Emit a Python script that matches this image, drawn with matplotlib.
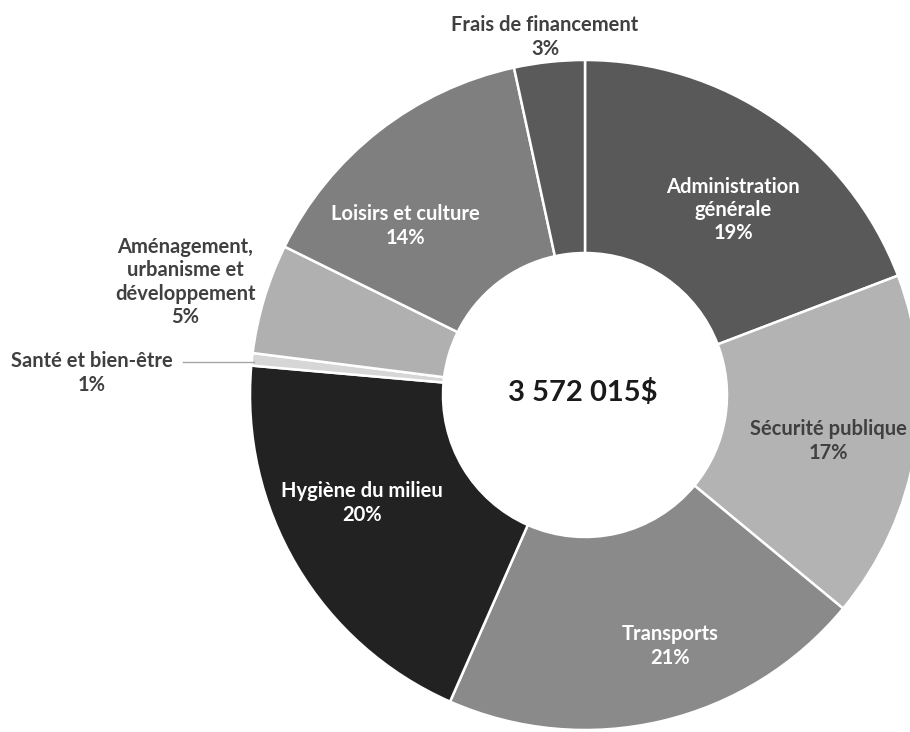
import matplotlib.pyplot as plt

# Données (parts estimées en % du budget)
categories = ["Administration\ngénérale", "Sécurité publique", "Transports",
              "Hygiène du milieu", "Santé et bien-être",
              "Aménagement,\nurbanisme et\ndéveloppement", "Loisirs et culture",
              "Frais de financement"]
shares = [19.2, 16.8, 20.6, 19.8, 0.6, 5.3, 14.3, 3.4]
colors = ["#595959", "#b3b3b3", "#8a8a8a", "#222222", "#d6d6d6", "#b0b0b0",
          "#7f7f7f", "#5a5a5a"]
total_label = "3 572 015$"

W, H = 910, 732
CX, CY, R = 585, 395, 335


def px(x, y):
    # pixels de l'image -> coordonnées du graphique
    return (x - CX) / R, (CY - y) / R


fig = plt.figure(figsize=(W / 100, H / 100), dpi=100)
ax = fig.add_axes([0, 0, 1, 1])

ax.pie(shares, colors=colors, startangle=90, counterclock=False, radius=1,
       wedgeprops=dict(width=1 - 142 / R, edgecolor="white", linewidth=1.8))

# pie() fixe ses propres limites : on les remet après
ax.set_aspect("auto")
ax.set_xlim(-CX / R, (W - CX) / R)
ax.set_ylim(-(H - CY) / R, CY / R)
ax.axis("off")

font = "Lato"
dark = "#404040"
labels = [f"{c}\n{round(s)}%" for c, s in zip(categories, shares)]

# position (pixels) et couleur de chaque étiquette
pos = [(733, 210), (828, 441), (670, 646), (362, 503), (92, 373),
       (185, 282), (405, 226), (545, 37)]
txt_colors = ["white", dark, "white", "white", dark, dark, "white", dark]

for lab, (x, y), c in zip(labels, pos, txt_colors):
    ax.text(*px(x, y), lab, ha="center", va="center", color=c,
            fontsize=14.5, fontweight="bold", family=font, linespacing=1.2)

# ligne de rappel pour Santé et bien-être
x0, y0 = px(183, 362)
x1, y1 = px(254, 362)
ax.plot([x0, x1], [y0, y1], color="#a6a6a6", lw=1)

ax.text(*px(583, 393), total_label, ha="center", va="center", color="#1a1a1a",
        fontsize=21, fontweight="bold", family=font)

fig.savefig("out.png", dpi=100, facecolor="white")
